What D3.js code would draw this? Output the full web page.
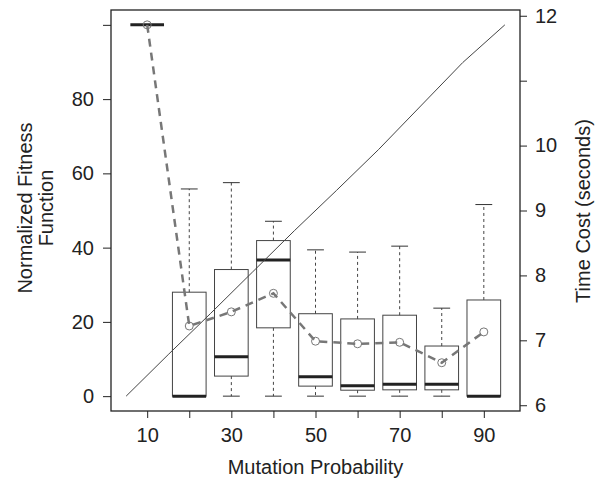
<!DOCTYPE html>
<html>
<head>
<meta charset="utf-8">
<script src="https://cdn.jsdelivr.net/npm/d3@7"></script>
<style>
  body { margin: 0; background: #fff; }
  svg { font-family: "Liberation Sans", Arial, sans-serif; }
  .tick text { font-size: 20px; fill: #222; }
  .label { font-size: 20px; fill: #222; }
</style>
</head>
<body>
<svg width="598" height="481"></svg>
<script>
const categories = [10, 20, 30, 40, 50, 60, 70, 80, 90];
const whiskerLow = [100, 0, 0, 0, 0, 0, 0, 0, 0];
const q1 = [100, 0, 5.4, 18.4, 2.7, 1.6, 1.7, 1.7, 0];
const median = [100, 0, 10.6, 36.7, 5.2, 2.8, 3.2, 3.2, 0];
const q3 = [100, 28.0, 34.1, 41.9, 22.2, 20.8, 21.8, 13.5, 25.9];
const whiskerHigh = [100, 55.8, 57.5, 47.1, 39.4, 38.8, 40.4, 23.7, 51.6];
const means = [100, 18.9, 22.7, 27.7, 14.8, 14.1, 14.5, 9.0, 17.3];

const timeX = [5, 15, 25, 35, 45, 55, 65, 75, 85, 95];
const timeCost = [6.14, 6.78, 7.41, 8.05, 8.69, 9.31, 9.94, 10.61, 11.28, 11.86];

const xLabels = [10, 30, 50, 70, 90];
const leftTicks = [0, 20, 40, 60, 80, 100];
const leftLabels = [0, 20, 40, 60, 80];
const rightTicks = [6, 7, 8, 9, 10, 11, 12];
const rightLabels = [6, 7, 8, 9, 10, 12];

const svg = d3.select('svg');
const plotLeft = 111, plotRight = 520, plotTop = 10, plotBottom = 411;

const xScale = d3.scaleLinear()
    .domain([1.4, 98.6])
    .range([plotLeft, plotRight]);

const yScale = d3.scaleLinear()
    .domain([-4, 104])
    .range([plotBottom, plotTop]);

const tScale = d3.scaleLinear()
    .domain([5.9112, 12.0888])
    .range([plotBottom, plotTop]);

const data = categories.map((c, i) => ({
    cat: c, lo: whiskerLow[i], q1: q1[i], med: median[i],
    q3: q3[i], hi: whiskerHigh[i], mean: means[i]
}));

const boxW = xScale(8) - xScale(0);
const capW = boxW / 2;

// axes
svg.append('g')
    .attr('transform', `translate(0, ${plotBottom})`)
    .call(d3.axisBottom(xScale)
        .tickValues(categories)
        .tickSize(7)
        .tickPadding(10)
        .tickFormat((d) => xLabels.includes(d) ? d : ''))
    .call((g) => g.select('.domain').remove());

svg.append('g')
    .attr('transform', `translate(${plotLeft}, 0)`)
    .call(d3.axisLeft(yScale)
        .tickValues(leftTicks)
        .tickSize(8)
        .tickPadding(9)
        .tickFormat((d) => leftLabels.includes(d) ? d : ''))
    .call((g) => g.select('.domain').remove());

svg.append('g')
    .attr('transform', `translate(${plotRight}, 0)`)
    .call(d3.axisRight(tScale)
        .tickValues(rightTicks)
        .tickSize(7)
        .tickPadding(8)
        .tickFormat((d) => rightLabels.includes(d) ? d : ''))
    .call((g) => g.select('.domain').remove());

svg.selectAll('.tick line').attr('stroke', '#222');

svg.append('rect')
    .attr('x', plotLeft)
    .attr('y', plotTop)
    .attr('width', plotRight - plotLeft)
    .attr('height', plotBottom - plotTop)
    .attr('fill', 'none')
    .attr('stroke', '#222')
    .attr('stroke-width', 1.3);

// boxes
const boxes = svg.append('g')
    .selectAll('g')
    .data(data)
    .enter()
    .append('g');

boxes.append('line')
    .attr('x1', (d) => xScale(d.cat))
    .attr('x2', (d) => xScale(d.cat))
    .attr('y1', (d) => yScale(d.q3))
    .attr('y2', (d) => yScale(d.hi))
    .attr('stroke', '#444')
    .attr('stroke-dasharray', '3,3');

boxes.append('line')
    .attr('x1', (d) => xScale(d.cat))
    .attr('x2', (d) => xScale(d.cat))
    .attr('y1', (d) => yScale(d.q1))
    .attr('y2', (d) => yScale(d.lo))
    .attr('stroke', '#444')
    .attr('stroke-dasharray', '3,3');

boxes.selectAll('.cap')
    .data((d) => [{ cat: d.cat, v: d.hi }, { cat: d.cat, v: d.lo }])
    .enter()
    .append('line')
    .attr('class', 'cap')
    .attr('x1', (d) => xScale(d.cat) - capW / 2)
    .attr('x2', (d) => xScale(d.cat) + capW / 2)
    .attr('y1', (d) => yScale(d.v))
    .attr('y2', (d) => yScale(d.v))
    .attr('stroke', '#333');

boxes.append('rect')
    .attr('x', (d) => xScale(d.cat) - boxW / 2)
    .attr('y', (d) => yScale(d.q3))
    .attr('width', boxW)
    .attr('height', (d) => yScale(d.q1) - yScale(d.q3))
    .attr('fill', 'none')
    .attr('stroke', '#444');

boxes.append('line')
    .attr('x1', (d) => xScale(d.cat) - boxW / 2)
    .attr('x2', (d) => xScale(d.cat) + boxW / 2)
    .attr('y1', (d) => yScale(d.med))
    .attr('y2', (d) => yScale(d.med))
    .attr('stroke', '#222')
    .attr('stroke-width', 3);

// time cost line
svg.append('path')
    .datum(timeX.map((x, i) => [x, timeCost[i]]))
    .attr('fill', 'none')
    .attr('stroke', '#444')
    .attr('stroke-width', 1)
    .attr('d', d3.line().x((d) => xScale(d[0])).y((d) => tScale(d[1])));

// mean line
svg.append('path')
    .datum(data)
    .attr('fill', 'none')
    .attr('stroke', '#777')
    .attr('stroke-width', 2.5)
    .attr('stroke-dasharray', '8,6')
    .attr('d', d3.line().x((d) => xScale(d.cat)).y((d) => yScale(d.mean)));

svg.append('g')
    .selectAll('circle')
    .data(data)
    .enter()
    .append('circle')
    .attr('cx', (d) => xScale(d.cat))
    .attr('cy', (d) => yScale(d.mean))
    .attr('r', 4)
    .attr('fill', 'none')
    .attr('stroke', '#777')
    .attr('stroke-width', 1);

// labels
svg.append('text')
    .attr('class', 'label')
    .attr('x', (plotLeft + plotRight) / 2)
    .attr('y', 474)
    .attr('text-anchor', 'middle')
    .text('Mutation Probability');

svg.append('text')
    .attr('class', 'label')
    .attr('transform', 'translate(31.5, 208) rotate(-90)')
    .attr('text-anchor', 'middle')
    .text('Normalized Fitness');

svg.append('text')
    .attr('class', 'label')
    .attr('transform', 'translate(53, 208) rotate(-90)')
    .attr('text-anchor', 'middle')
    .text('Function');

svg.append('text')
    .attr('class', 'label')
    .attr('transform', 'translate(590, 211) rotate(-90)')
    .attr('text-anchor', 'middle')
    .text('Time Cost (seconds)');
</script>
</body>
</html>
